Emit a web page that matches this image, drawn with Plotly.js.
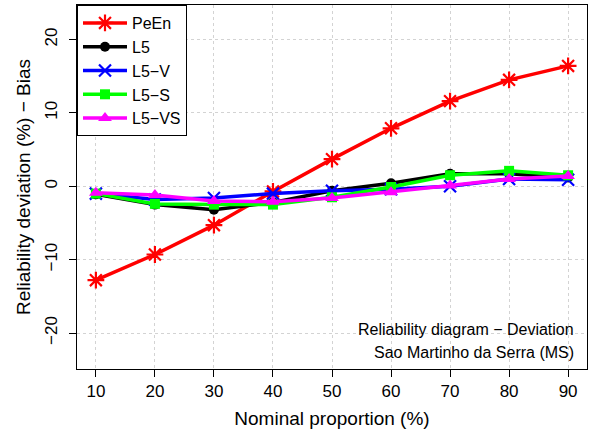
<!DOCTYPE html>
<html>
<head>
<meta charset="utf-8">
<script src="https://cdn.plot.ly/plotly-3.0.1.min.js"></script>
<style>html,body{margin:0;padding:0;background:#fff;}#chart{width:592px;height:434px;}</style>
</head>
<body>
<div id="chart"></div>
<script>
const proportions = [10, 20, 30, 40, 50, 60, 70, 80, 90];
const peen = [-12.8, -9.3, -5.3, -0.7, 3.7, 7.9, 11.6, 14.5, 16.4];
const l5   = [-1.1, -2.5, -3.2, -2.2, -0.6, 0.4, 1.7, 1.7, 1.2];
const l5v  = [-1.0, -1.8, -1.6, -1.0, -0.6, -0.4, 0.0, 1.0, 0.9];
const l5s  = [-1.0, -2.4, -2.5, -2.5, -1.5, -0.1, 1.5, 2.1, 1.5];
const l5vs = [-0.9, -1.2, -2.0, -2.1, -1.6, -0.8, 0.1, 1.0, 1.4];
const seriesNames = ["PeEn", "L5", "L5\u2212V", "L5\u2212S", "L5\u2212VS"];
const yTicks = [-20, -10, 0, 10, 20];
const yTickText = ["\u221220", "\u221210", "0", "10", "20"];

const colors = ["#ff0000", "#000000", "#0000ff", "#00ff00", "#ff00ff"];
const symbols = ["asterisk-open", "circle", "x-thin-open", "square", "triangle-up"];
const sizes = [14, 10, 12, 10, 12];
const data = [peen, l5, l5v, l5s, l5vs];

const traces = data.map((ys, i) => ({
  x: proportions, y: ys, name: seriesNames[i], type: "scatter", mode: "lines+markers",
  line: {color: colors[i], width: 3.5},
  marker: {color: colors[i], symbol: symbols[i], size: sizes[i],
    line: {color: colors[i], width: (symbols[i].indexOf("open") >= 0) ? 2.2 : 0}}
}));

const font = "Liberation Sans, Arial, Helvetica, sans-serif";
const layout = {
  width: 592, height: 434,
  margin: {l: 77, r: 5, t: 5, b: 65},
  paper_bgcolor: "#fff", plot_bgcolor: "#fff",
  font: {family: font, size: 17, color: "#000"},
  showlegend: true,
  legend: {x: 0, y: 1, xanchor: "left", yanchor: "top", bgcolor: "#fff",
    bordercolor: "#000", borderwidth: 1, font: {family: font, size: 16}, tracegroupgap: 0,
    itemwidth: 44},
  xaxis: {
    range: [6.8, 93.2], tickvals: proportions, ticks: "outside", ticklen: 7, tickwidth: 1,
    tickcolor: "#000", showline: true, linecolor: "#000", linewidth: 1, mirror: true,
    showgrid: true, gridcolor: "#d3d3d3", griddash: "dot", gridwidth: 1, zeroline: false,
    tickfont: {family: font, size: 17},
    title: {text: "Nominal proportion (%)", font: {family: font, size: 19}, standoff: 11}
  },
  yaxis: {
    range: [-24.9, 24.7], tickvals: yTicks, ticktext: yTickText, tickangle: -90,
    ticks: "outside", ticklen: 7, tickwidth: 1, tickcolor: "#000", ticklabelstandoff: 5,
    showline: true, linecolor: "#000", linewidth: 1, mirror: true,
    showgrid: true, gridcolor: "#d3d3d3", griddash: "dot", gridwidth: 1, zeroline: false,
    tickfont: {family: font, size: 17},
    title: {text: "Reliability deviation (%) \u2212 Bias", font: {family: font, size: 19}, standoff: 6}
  },
  annotations: [
    {xref: "paper", yref: "paper", x: 0.978, y: 0.108, xanchor: "right", yanchor: "middle",
     text: "Reliability diagram \u2212 Deviation", showarrow: false, font: {family: font, size: 16}},
    {xref: "paper", yref: "paper", x: 0.978, y: 0.045, xanchor: "right", yanchor: "middle",
     text: "Sao Martinho da Serra (MS)", showarrow: false, font: {family: font, size: 16}}
  ]
};

Plotly.newPlot("chart", traces, layout, {displayModeBar: false, staticPlot: true});
</script>
</body>
</html>
